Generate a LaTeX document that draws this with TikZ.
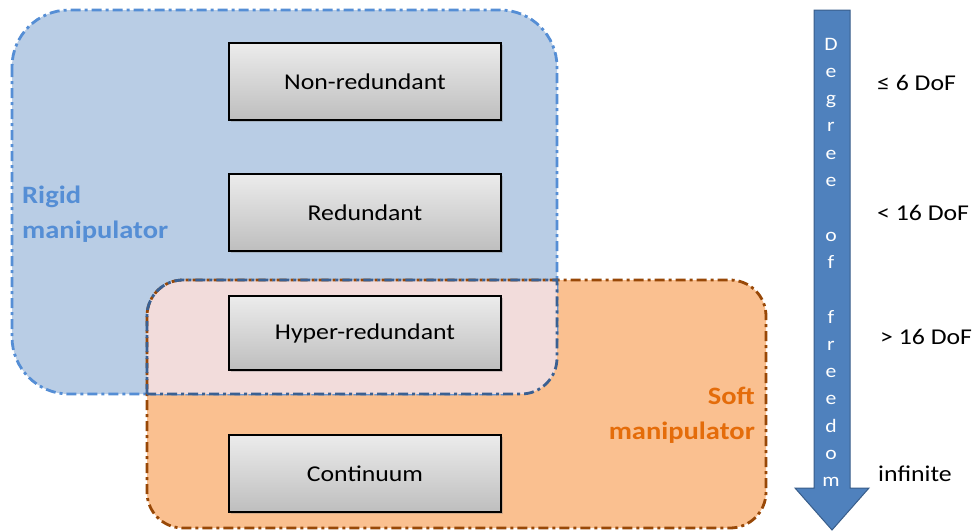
\documentclass[tikz,border=0pt]{standalone}
\usepackage{fontspec}
\setmainfont{Carlito}[FakeStretch=1.14]
\usetikzlibrary{shadows}
\definecolor{bluefill}{RGB}{185,205,229}
\definecolor{blueline}{RGB}{85,142,213}
\definecolor{darkblueline}{RGB}{58,96,146}
\definecolor{orangefill}{RGB}{250,192,144}
\definecolor{orangeline}{RGB}{152,72,7}
\definecolor{pinkfill}{RGB}{242,220,219}
\definecolor{rigidtxt}{RGB}{85,142,213}
\definecolor{softtxt}{RGB}{228,108,10}
\definecolor{arrowfill}{RGB}{79,129,189}
\definecolor{arrowline}{RGB}{56,93,138}
\definecolor{boxtop}{RGB}{236,236,236}
\definecolor{boxbot}{RGB}{190,190,190}
\tikzset{
  dashdotline/.style={line width=2.8pt, dash pattern=on 10pt off 4pt on 3pt off 4pt},
  graybox/.style={draw=black, line width=1.3pt, top color=boxtop, bottom color=boxbot,
    minimum width=272pt, minimum height=77pt, inner sep=0pt,
    font=\fontsize{22.6}{27}\selectfont,
    drop shadow={opacity=0.35, shadow xshift=1.5pt, shadow yshift=-2pt}},
  grouplabel/.style={font=\fontsize{25}{35}\bfseries\selectfont, inner sep=0pt},
  doflabel/.style={font=\fontsize{22.6}{27}\selectfont, anchor=west, inner sep=0pt},
  vletter/.style={font=\fontsize{19}{22}\selectfont, text=white, inner sep=0pt, anchor=base}
}
\def\overlappath{(147,394) -- (147,316) arc[start angle=180, end angle=90, radius=36pt]
  -- (557,280) -- (557,358) arc[start angle=0, end angle=-90, radius=36pt] -- cycle}
\begin{document}
\begin{tikzpicture}[x=1pt,y=-1pt]
\useasboundingbox (0,0) rectangle (975,531);
% region fills
\path[fill=bluefill, rounded corners=57pt] (12,10) rectangle (557,394);
\path[fill=orangefill, rounded corners=36pt] (147,280) rectangle (766,528);
% blue outline
\draw[dashdotline, draw=blueline, rounded corners=57pt] (12,10) rectangle (557,394);
% overlap region
\path[fill=pinkfill] \overlappath;
% orange outline
\draw[dashdotline, draw=orangeline, rounded corners=36pt] (147,280) rectangle (766,528);
% overlap outline
\draw[dashdotline, draw=darkblueline] \overlappath;
% boxes
\node[graybox] (nonred) at (365,81.5) {Non-redundant};
\node[graybox] (red) at (365,212.5) {Redundant};
\node[graybox, minimum height=74pt] (hyper) at (365,333) {Hyper-redundant};
\node[graybox] (cont) at (365,473.5) {Continuum};
% group labels
\node[grouplabel, text=rigidtxt, align=left, anchor=west] (rigid) at (22,214) {Rigid\\manipulator};
\node[grouplabel, text=softtxt, align=right, anchor=east] (soft) at (755,415) {Soft\\manipulator};
% arrow
\draw[fill=arrowfill, draw=arrowline, line width=1pt]
  (814,10) -- (850,10) -- (850,488) -- (869,488) -- (832,530) -- (795,488) -- (814,488) -- cycle;
\foreach \c [count=\i] in {D,e,g,r,e,e,{},o,f,{},f,r,e,e,d,o,m}{
  \node[vletter] (L\i) at (831,{50+27.3*(\i-1)}) {\c};
}
% DoF labels
\node[doflabel] (d1) at (877,83) {≤ 6 DoF};
\node[doflabel] (d2) at (877,213) {< 16 DoF};
\node[doflabel] (d3) at (880,337) {> 16 DoF};
\node[doflabel] (d4) at (878,474) {infinite};
\end{tikzpicture}
\end{document}
